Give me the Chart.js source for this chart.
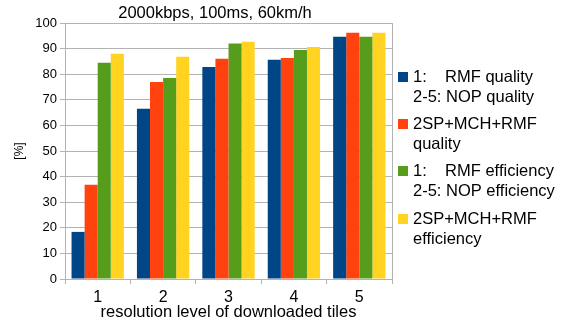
<!DOCTYPE html>
<html>
<head>
<meta charset="utf-8">
<script src="https://cdn.jsdelivr.net/npm/chart.js@4"></script>
<style>
  html, body { margin: 0; padding: 0; background: #fff; }
  #wrap { width: 563px; height: 322px; }
</style>
</head>
<body>
<div id="wrap"><canvas id="chart" width="563" height="322"></canvas></div>
<script>
const categories = ['1', '2', '3', '4', '5'];
const rmfQuality = [18.4, 66.5, 82.8, 85.6, 94.6];
const comboQuality = [36.8, 77.0, 86.0, 86.3, 96.2];
const rmfEfficiency = [84.5, 78.5, 92.0, 89.5, 94.6];
const comboEfficiency = [88.0, 86.8, 92.7, 90.6, 96.2];
const seriesLabels = [
    ['1:    RMF quality', '2-5: NOP quality'],
    ['2SP+MCH+RMF', 'quality'],
    ['1:    RMF efficiency', '2-5: NOP efficiency'],
    ['2SP+MCH+RMF', 'efficiency']
];
const colors = ['#004586', '#ff420e', '#579d1c', '#ffd320'];

const font = '"Liberation Sans", Arial, sans-serif';

// legend and title drawn by hand, LibreOffice style
const decorations = {
    id: 'decorations',
    afterDraw(chart) {
        const ctx = chart.ctx;
        ctx.save();
        ctx.fillStyle = '#000';
        ctx.textBaseline = 'middle';
        ctx.font = '16.5px ' + font;
        ctx.textAlign = 'center';
        ctx.fillText('2000kbps, 100ms, 60km/h', 215, 13);

        ctx.textAlign = 'left';
        ctx.font = '16.5px ' + font;
        const tops = [77, 124, 171, 219];
        seriesLabels.forEach((lines, i) => {
            ctx.fillStyle = colors[i];
            ctx.fillRect(398, tops[i] - 5, 10, 10);
            ctx.fillStyle = '#000';
            lines.forEach((line, j) => {
                ctx.fillText(line, 413, tops[i] + j * 20);
            });
        });
        ctx.restore();
    }
};

new Chart(document.getElementById('chart'), {
    type: 'bar',
    data: {
        labels: categories,
        datasets: [rmfQuality, comboQuality, rmfEfficiency, comboEfficiency].map((d, i) => ({
            label: seriesLabels[i].join(' '),
            data: d,
            backgroundColor: colors[i],
            borderWidth: 0,
            categoryPercentage: 0.8,
            barPercentage: 1.0
        }))
    },
    options: {
        responsive: false,
        animation: false,
        layout: { padding: { top: 23, right: 171, left: 0, bottom: 0 } },
        plugins: {
            legend: { display: false },
            title: { display: false },
            tooltip: { enabled: false }
        },
        scales: {
            x: {
                grid: {
                    offset: true,
                    color: '#b3b3b3',
                    drawOnChartArea: false,
                    tickLength: 5
                },
                border: { color: '#b3b3b3' },
                ticks: { color: '#000', font: { family: font, size: 16 }, padding: 4 },
                title: {
                    display: true,
                    text: 'resolution level of downloaded tiles',
                    color: '#000',
                    font: { family: font, size: 16.5 },
                    padding: { top: 0, bottom: 0 }
                },
                afterFit(axis) { axis.height = 43; }
            },
            y: {
                min: 0,
                max: 100,
                ticks: { stepSize: 10, color: '#000', font: { family: font, size: 13 }, padding: 3 },
                grid: { color: '#b3b3b3', tickLength: 5 },
                border: { color: '#b3b3b3' },
                title: {
                    display: true,
                    text: '[%]',
                    color: '#000',
                    font: { family: font, size: 12 },
                    padding: { top: 12, bottom: 0 }
                },
                afterFit(axis) { axis.width = 65; }
            },
            yRight: {
                position: 'right',
                min: 0,
                max: 100,
                ticks: { display: false },
                grid: { display: false },
                border: { color: '#b3b3b3' },
                afterFit(axis) { axis.width = 0; }
            }
        }
    },
    plugins: [decorations]
});
</script>
</body>
</html>
